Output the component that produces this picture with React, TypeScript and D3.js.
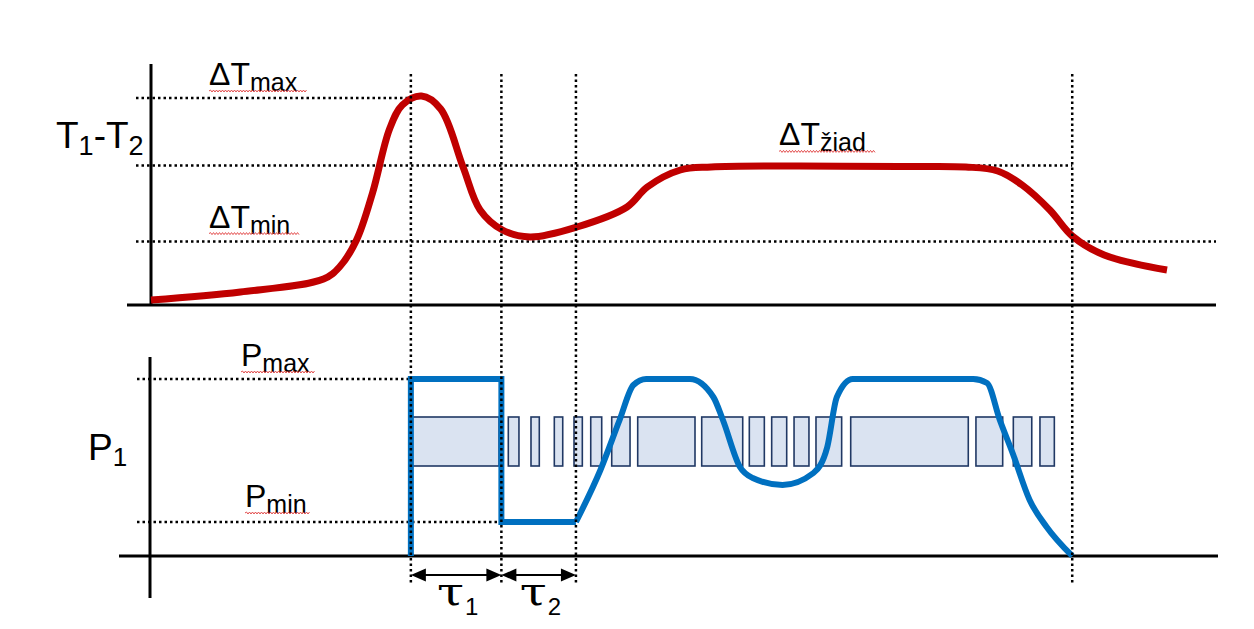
import { useMemo } from 'react';
import * as d3 from 'd3';

// time markers (vertical dotted lines) on a 0..100 time axis
const MARKERS = [24.4, 32.9, 39.9, 86.5];

// temperature difference levels
const DT_MAX = 10.35;
const DT_ZIAD = 6.98;
const DT_MIN = 3.17;

// power levels
const P_MAX = 8.85;
const P_MIN = 1.7;

// T1-T2 curve
const redTime = [0, 8.4, 16.2, 17.7, 19.3, 20.8, 22.4, 23.6, 25.4, 27.2, 29.3, 30.9, 33.0, 35.6, 40.0, 44.7, 46.6, 49.7, 52.6, 60.9, 70.3, 76.5, 79.5, 81.8, 84.4, 86.5, 89.5, 95.4];
const redValue = [0.25, 0.65, 1.3, 1.9, 3.25, 5.6, 8.8, 10.0, 10.45, 9.8, 6.9, 4.75, 3.75, 3.4, 3.9, 4.9, 5.9, 6.75, 6.9, 6.95, 6.92, 6.9, 6.7, 6.0, 4.75, 3.45, 2.5, 1.75];

// P1: step part then smooth part
const stepTime = [24.4, 24.4, 32.9, 32.9, 39.9];
const stepValue = [0, P_MAX, P_MAX, P_MIN, P_MIN];
const blueTime = [39.9, 42.2, 44.0, 45.3, 46.5, 50.6, 52.8, 53.7, 55.3, 56.5, 59.3, 62.2, 63.5, 64.4, 65.9, 77.2, 78.5, 79.7, 80.9, 82.5, 84.1, 86.5];
const blueValue = [P_MIN, 4.3, 6.8, 8.55, 8.85, 8.85, 7.95, 6.8, 4.45, 3.9, 3.55, 4.15, 5.45, 7.95, 8.85, 8.85, 8.65, 6.8, 5.15, 2.8, 1.45, 0];

// pulse blocks
const barStart = [24.4, 33.55, 35.68, 37.87, 39.72, 41.29, 43.26, 45.7, 51.71, 56.18, 58.28, 60.38, 62.44, 65.7, 77.46, 80.97, 83.47];
const barEnd = [32.68, 34.55, 36.46, 38.66, 40.5, 42.32, 44.98, 51.08, 55.56, 57.59, 59.69, 61.78, 64.85, 76.74, 79.97, 82.7, 84.82];
const BAR_TOP = 6.95;
const BAR_BOTTOM = 4.5;

const W = 1254;
const H = 629;
const SANS = '"Liberation Sans", Arial, sans-serif';
const SERIF = '"DejaVu Serif", "Liberation Serif", serif';
const DOT = '2.5 3';

function squiggle(x0: number, x1: number, y: number) {
  let d = `M${x0},${y}`;
  let up = true;
  for (let x = x0 + 1.5; x <= x1; x += 1.5) {
    d += `L${x},${y + (up ? -1 : 1)}`;
    up = !up;
  }
  return d;
}

function Label({ x, y, main, sub, size = 32, subSize = 25, wavyEnd }: { x: number; y: number; main: string; sub: string; size?: number; subSize?: number; wavyEnd: number }) {
  return (
    <g>
      <text x={x} y={y} fontFamily={SANS} fontSize={size} fill="#000">
        {main}
        <tspan fontSize={subSize} dy={6}>{sub}</tspan>
      </text>
      <path d={squiggle(x, wavyEnd, y + 6)} fill="none" stroke="#e03c3c" strokeWidth={0.9} />
    </g>
  );
}

function arrowHead(tipX: number, y: number, dir: number) {
  const len = 15;
  const half = 6.5;
  return `M${tipX},${y}L${tipX - dir * len},${y - half}L${tipX - dir * len},${y + half}Z`;
}

export default function App() {
  const x = d3.scaleLinear().domain([0, 100]).range([151, 1216]);
  const yTop = d3.scaleLinear().domain([0, 12]).range([305, 65]);
  const yBot = d3.scaleLinear().domain([0, 10]).range([556, 356]);

  const { redPath, stepPath, bluePath } = useMemo(() => {
    const red = d3
      .line<number>()
      .x((_, i) => x(redTime[i]))
      .y((d) => yTop(d))
      .curve(d3.curveCatmullRom.alpha(0.5));
    const step = d3
      .line<number>()
      .x((_, i) => x(stepTime[i]))
      .y((d) => yBot(d));
    const blue = d3
      .line<number>()
      .x((_, i) => x(blueTime[i]))
      .y((d) => yBot(d))
      .curve(d3.curveMonotoneX);
    return {
      redPath: red(redValue) ?? '',
      stepPath: step(stepValue) ?? '',
      bluePath: blue(blueValue) ?? '',
    };
  }, []);

  const arrowY = 575;

  return (
    <div style={{ position: 'absolute', left: 0, top: 0 }}>
      <svg width={W} height={H} viewBox={`0 0 ${W} ${H}`} style={{ display: 'block', background: '#fff' }}>
        {/* axes */}
        <line x1={x(0)} y1={64} x2={x(0)} y2={306} stroke="#000" strokeWidth={3} />
        <line x1={127} y1={yTop(0)} x2={x(100)} y2={yTop(0)} stroke="#000" strokeWidth={3} />
        <line x1={x(0) - 1} y1={357} x2={x(0) - 1} y2={598} stroke="#000" strokeWidth={3} />
        <line x1={119} y1={yBot(0)} x2={x(100) + 2} y2={yBot(0)} stroke="#000" strokeWidth={3} />

        {/* level lines */}
        <line x1={136} y1={yTop(DT_MAX)} x2={x(MARKERS[0])} y2={yTop(DT_MAX)} stroke="#000" strokeWidth={2.5} strokeDasharray={DOT} />
        <line x1={136} y1={yTop(DT_ZIAD)} x2={x(MARKERS[3])} y2={yTop(DT_ZIAD)} stroke="#000" strokeWidth={2.5} strokeDasharray={DOT} />
        <line x1={136} y1={yTop(DT_MIN)} x2={x(100)} y2={yTop(DT_MIN)} stroke="#000" strokeWidth={2.5} strokeDasharray={DOT} />
        <line x1={137} y1={yBot(P_MAX)} x2={x(MARKERS[0])} y2={yBot(P_MAX)} stroke="#000" strokeWidth={2.5} strokeDasharray={DOT} />
        <line x1={137} y1={yBot(P_MIN)} x2={x(MARKERS[1])} y2={yBot(P_MIN)} stroke="#000" strokeWidth={2.5} strokeDasharray={DOT} />

        {/* pulse blocks */}
        {barStart.map((s, i) => (
          <rect
            key={i}
            x={x(s)}
            y={yBot(BAR_TOP)}
            width={x(barEnd[i]) - x(s)}
            height={yBot(BAR_BOTTOM) - yBot(BAR_TOP)}
            fill="#dae3f1"
            stroke="#203864"
            strokeWidth={1.6}
          />
        ))}

        {/* curves */}
        <path d={redPath} fill="none" stroke="#c00000" strokeWidth={7} strokeLinejoin="round" />
        <path d={stepPath} fill="none" stroke="#0070c0" strokeWidth={6} strokeLinejoin="miter" />
        <path d={bluePath} fill="none" stroke="#0070c0" strokeWidth={6} strokeLinejoin="round" />

        {/* vertical markers */}
        {MARKERS.map((m) => (
          <line key={m} x1={x(m)} y1={74} x2={x(m)} y2={583} stroke="#000" strokeWidth={2.5} strokeDasharray={DOT} />
        ))}

        {/* tau arrows */}
        {[0, 1].map((i) => {
          const a = x(MARKERS[i]);
          const b = x(MARKERS[i + 1]);
          return (
            <g key={i}>
              <line x1={a + 8} y1={arrowY} x2={b - 8} y2={arrowY} stroke="#000" strokeWidth={2} />
              <path d={arrowHead(a, arrowY, -1)} fill="#000" />
              <path d={arrowHead(b, arrowY, 1)} fill="#000" />
            </g>
          );
        })}

        {/* labels */}
        <Label x={209} y={yTop(DT_MAX) - 13} main="ΔT" sub="max" wavyEnd={307} />
        <Label x={209} y={yTop(DT_MIN) - 14} main="ΔT" sub="min" wavyEnd={300} />
        <Label x={779} y={yTop(DT_ZIAD) - 20} main="ΔT" sub="žiad" wavyEnd={876} />
        <Label x={241} y={yBot(P_MAX) - 13} main="P" sub="max" wavyEnd={315} />
        <Label x={245} y={yBot(P_MIN) - 15} main="P" sub="min" wavyEnd={310} />

        <text x={56} y={148} fontFamily={SANS} fontSize={37} fill="#000">
          T<tspan fontSize={27} dy={7}>1</tspan>
          <tspan dy={-7}>-T</tspan>
          <tspan fontSize={27} dy={7}>2</tspan>
        </text>
        <text x={88} y={460} fontFamily={SANS} fontSize={37} fill="#000">
          P<tspan fontSize={26} dy={6}>1</tspan>
        </text>

        {[0, 1].map((i) => {
          const a = x(MARKERS[i]);
          const b = x(MARKERS[i + 1]);
          const cx = (a + b) / 2 - 6;
          return (
            <g key={i}>
              <text x={cx - 13} y={605} fontFamily={SERIF} fontSize={40} fill="#000" textLength={27} lengthAdjust="spacingAndGlyphs">
                τ
              </text>
              <text x={cx + 15} y={615} fontFamily={SANS} fontSize={24} fill="#000">
                {i + 1}
              </text>
            </g>
          );
        })}
      </svg>
    </div>
  );
}
